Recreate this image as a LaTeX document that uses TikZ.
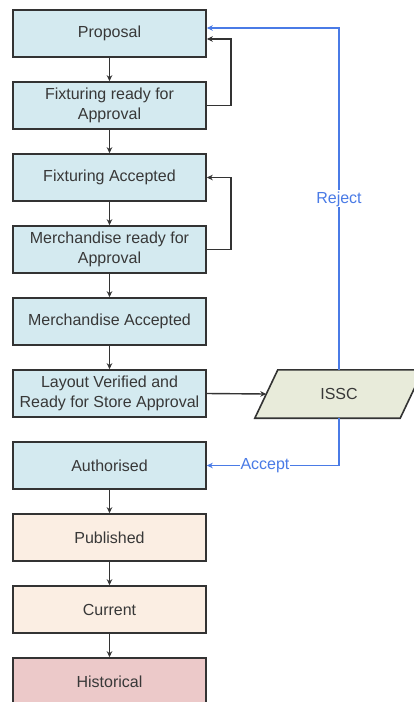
\documentclass[tikz,border=0pt]{standalone}
\usepackage{fontspec}
\setmainfont{Liberation Sans}
\usetikzlibrary{arrows.meta,backgrounds,calc}
\definecolor{boxblue}{HTML}{D4EAF0}
\definecolor{boxpeach}{HTML}{FBEEE3}
\definecolor{boxpink}{HTML}{ECC9C9}
\definecolor{isscfill}{HTML}{E8EBDA}
\definecolor{edgegray}{HTML}{333333}
\definecolor{txtgray}{HTML}{383838}
\definecolor{flowblue}{HTML}{4A7BE6}
\tikzset{
  stbox/.style={draw=edgegray, line width=1.6pt, minimum width=193pt, minimum height=47pt,
    inner sep=0pt, align=center, text=txtgray, font=\fontsize{16}{20}\selectfont},
  bluebox/.style={stbox, fill=boxblue},
  peachbox/.style={stbox, fill=boxpeach},
  pinkbox/.style={stbox, fill=boxpink},
  flow/.style={draw=edgegray, line width=1.4pt, -{Stealth[length=6pt,width=5.5pt]}},
  bflow/.style={draw=flowblue, line width=1.5pt, -{Stealth[length=6pt,width=5.5pt]}},
  blabel/.style={fill=white, text=flowblue, inner sep=1pt, font=\fontsize{16}{18}\selectfont},
}
\begin{document}
\begin{tikzpicture}[x=1pt,y=-1pt]
\useasboundingbox (0,0) rectangle (414,702);
\clip (0,0) rectangle (414,702);
\node[bluebox] (b1) at (109.5,33.5) {Proposal};
\node[bluebox] (b2) at (109.5,105.5) {Fixturing ready for\\Approval};
\node[bluebox] (b3) at (109.5,177.5) {Fixturing Accepted};
\node[bluebox] (b4) at (109.5,249.5) {Merchandise ready for\\Approval};
\node[bluebox] (b5) at (109.5,321.5) {Merchandise Accepted};
\node[bluebox] (b6) at (109.5,393.5) {Layout Verified and\\Ready for Store Approval};
\node[bluebox] (b7) at (109.5,465.5) {Authorised};
\node[peachbox] (b8) at (109.5,537.5) {Published};
\node[peachbox] (b9) at (109.5,609.5) {Current};
\node[pinkbox] (b10) at (109.5,681.5) {Historical};
% ISSC parallelogram
\node[minimum width=145pt, minimum height=48pt, inner sep=0pt, text=txtgray,
      font=\fontsize{16}{20}\selectfont] (issc) at (339,394) {ISSC};
\begin{scope}[on background layer]
\fill[white] (0,0) rectangle (414,702);
\draw[draw=edgegray, line width=1.6pt, fill=isscfill]
  ($(issc.south west)+(-11.5,0)$) -- ($(issc.north west)+(11.5,0)$) --
  ($(issc.north east)+(11.5,0)$) -- ($(issc.south east)+(-11.5,0)$) -- cycle;
\end{scope}
% main chain
\draw[flow] (b1) -- (b2);
\draw[flow] (b2) -- (b3);
\draw[flow] (b3) -- (b4);
\draw[flow] (b4) -- (b5);
\draw[flow] (b5) -- (b6);
\draw[flow] (b7) -- (b8);
\draw[flow] (b8) -- (b9);
\draw[flow] (b9) -- (b10);
% feedback loops
\draw[flow] (b2.east) -- ++(24,0) |- ($(b1.east)+(0,5.5)$);
\draw[flow] (b4.east) -- ++(24,0) |- (b3.east);
% to ISSC
\draw[flow] (b6.east) -- (issc.west);
% reject / accept
\draw[bflow] (issc.north) |- ($(b1.east)+(0,-5.5)$)
  node[blabel, pos=0.25] {Reject};
\draw[bflow] (issc.south) |- (b7.east)
  node[blabel, pos=0.78] {Accept};
\end{tikzpicture}
\end{document}
